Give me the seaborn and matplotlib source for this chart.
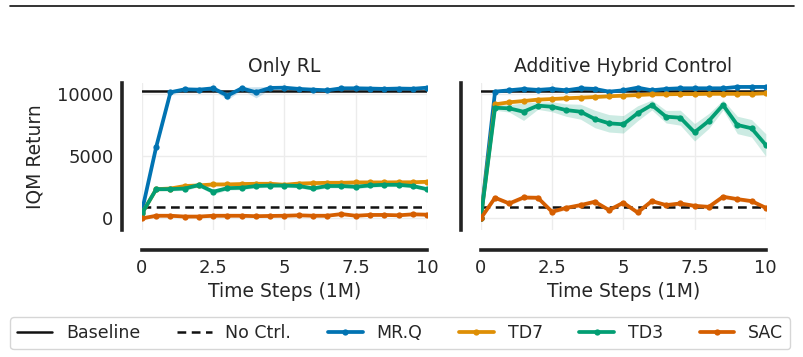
import numpy as np
import matplotlib
matplotlib.use('Agg')
import matplotlib.pyplot as plt
from matplotlib.lines import Line2D
import seaborn as sns

steps = [0, 0.5, 1, 1.5, 2, 2.5, 3, 3.5, 4, 4.5, 5,
         5.5, 6, 6.5, 7, 7.5, 8, 8.5, 9, 9.5, 10]

baseline = 10250
no_ctrl = 930

# Only RL
mrq_rl = [600, 5750, 10120, 10360, 10330, 10440, 9850, 10440, 10120, 10470, 10490,
          10390, 10330, 10280, 10440, 10440, 10420, 10390, 10420, 10400, 10490]
mrq_rl_err = [150, 250, 200, 120, 100, 100, 350, 100, 450, 100, 100,
              100, 100, 100, 100, 100, 100, 100, 100, 100, 100]
td7_rl = [400, 2350, 2400, 2600, 2650, 2730, 2730, 2760, 2780, 2780, 2700,
          2800, 2830, 2860, 2860, 2890, 2890, 2890, 2900, 2900, 2940]
td7_rl_err = [100, 150, 150, 150, 150, 150, 150, 150, 150, 150, 150,
              150, 150, 150, 150, 150, 150, 150, 150, 150, 150]
td3_rl = [400, 2350, 2350, 2400, 2680, 2140, 2430, 2460, 2600, 2640, 2640,
          2600, 2410, 2600, 2600, 2540, 2650, 2700, 2700, 2600, 2350]
td3_rl_err = [100, 150, 150, 150, 150, 200, 150, 150, 150, 150, 150,
              150, 150, 150, 150, 150, 150, 150, 150, 150, 150]
sac_rl = [0, 215, 215, 150, 150, 215, 215, 215, 180, 200, 215,
          250, 215, 215, 350, 215, 280, 280, 250, 330, 300]
sac_rl_err = [80, 100, 100, 100, 100, 100, 100, 100, 100, 100, 100,
              100, 100, 100, 100, 100, 100, 100, 100, 100, 100]

# Additive Hybrid Control
mrq_hc = [0, 10170, 10280, 10390, 10310, 10390, 10280, 10440, 10390, 10170, 10280,
          10490, 10280, 10390, 10440, 10440, 10440, 10440, 10550, 10550, 10550]
mrq_hc_err = [80, 120, 100, 100, 100, 100, 100, 100, 100, 100, 100,
              100, 100, 100, 100, 100, 100, 100, 100, 100, 100]
td7_hc = [0, 9150, 9320, 9420, 9530, 9580, 9640, 9690, 9740, 9800, 9850,
          9900, 9960, 9960, 9980, 9980, 10000, 10000, 10000, 10000, 10040]
td7_hc_err = [80, 150, 120, 120, 120, 120, 120, 120, 120, 120, 120,
              120, 120, 120, 120, 120, 120, 120, 120, 120, 120]
td3_hc = [0, 8880, 8830, 8560, 9050, 8960, 8690, 8560, 7980, 7630, 7550,
          8430, 9100, 8160, 8080, 6910, 7820, 9100, 7500, 7230, 5890]
td3_hc_err = [100, 200, 300, 700, 300, 400, 500, 600, 700, 700, 700,
              600, 400, 500, 600, 700, 600, 400, 700, 700, 900]
sac_hc = [0, 1660, 1200, 1680, 1660, 535, 850, 1070, 1340, 670, 1260,
          480, 1390, 1070, 1200, 1010, 930, 1740, 1550, 1390, 850]
sac_hc_err = [80, 150, 150, 150, 150, 150, 150, 150, 150, 150, 150,
              150, 150, 150, 150, 150, 150, 150, 150, 150, 150]

algos = ['MR.Q', 'TD7', 'TD3', 'SAC']
pal = sns.color_palette('colorblind')
colors = {'MR.Q': pal[0], 'TD7': pal[1], 'TD3': pal[2], 'SAC': pal[3]}

panels = [
    ('Only RL', {'MR.Q': (mrq_rl, mrq_rl_err), 'TD7': (td7_rl, td7_rl_err),
                 'TD3': (td3_rl, td3_rl_err), 'SAC': (sac_rl, sac_rl_err)}),
    ('Additive Hybrid Control', {'MR.Q': (mrq_hc, mrq_hc_err), 'TD7': (td7_hc, td7_hc_err),
                                 'TD3': (td3_hc, td3_hc_err), 'SAC': (sac_hc, sac_hc_err)}),
]

sns.set_theme(style='whitegrid')
plt.rcParams['font.family'] = ['DejaVu Sans']
plt.rcParams['font.size'] = 13
plt.rcParams['grid.color'] = '#ececec'
plt.rcParams['axes.edgecolor'] = '#222222'

fig = plt.figure(figsize=(8.04, 3.57), dpi=100)
ax1 = fig.add_axes([0.1766, 0.355, 0.3545, 0.412])
ax2 = fig.add_axes([0.598, 0.355, 0.3545, 0.412], sharey=ax1)
axes = [ax1, ax2]

for ax, (title, series) in zip(axes, panels):
    ax.axhline(baseline, color='#111111', lw=1.8, zorder=1)
    ax.axhline(no_ctrl, color='#111111', lw=1.8, ls='--', dashes=(3.5, 2.2), zorder=1)
    for a in algos:
        vals, err = series[a]
        vals = np.array(vals)
        err = np.array(err)
        ax.fill_between(steps, vals - err, vals + err, color=colors[a], alpha=0.2, lw=0, zorder=2)
        sns.lineplot(x=steps, y=vals, color=colors[a], marker='o', markersize=4.5,
                     markeredgewidth=0, linewidth=2.7, ax=ax, zorder=3)
    ax.set_title(title, fontsize=13.5, pad=8)
    ax.set_xlim(0, 10)
    ax.set_xticks([0, 2.5, 5, 7.5, 10])
    ax.set_xticklabels(['0', '2.5', '5', '7.5', '10'])
    ax.set_xlabel('Time Steps (1M)', fontsize=13.5, labelpad=4)
    ax.tick_params(labelsize=13, pad=6, length=0)
    ax.grid(True, color='#ececec', lw=1)

ax1.set_ylim(-950, 10850)
ax1.set_yticks([0, 5000, 10000])
ax1.set_ylabel('IQM Return', fontsize=13.5, labelpad=9)
ax2.tick_params(labelleft=False)
ax2.set_ylabel('')

sns.despine(fig=fig, offset=14.5)
for ax in axes:
    for s in ['left', 'bottom']:
        ax.spines[s].set_linewidth(2.6)
        ax.spines[s].set_color('#222222')

handles = [Line2D([], [], color='#111111', lw=1.8),
           Line2D([], [], color='#111111', lw=1.8, ls='--', dashes=(3.5, 2.2))]
for a in algos:
    handles.append(Line2D([], [], color=colors[a], lw=2.7, marker='o', markersize=4.5,
                          markeredgewidth=0))
labels = ['Baseline', 'No Ctrl.'] + algos
fig.legend(handles, labels, loc='lower left', ncol=6, mode='expand',
           bbox_to_anchor=(0.013, 0.022, 0.97, 0.085), fontsize=12.5,
           frameon=True, handlelength=2.0, borderaxespad=0)

fig.add_artist(Line2D([0.012, 0.987], [0.983, 0.983], color='#111111', lw=1.2))

fig.savefig('out.png', dpi=100)
